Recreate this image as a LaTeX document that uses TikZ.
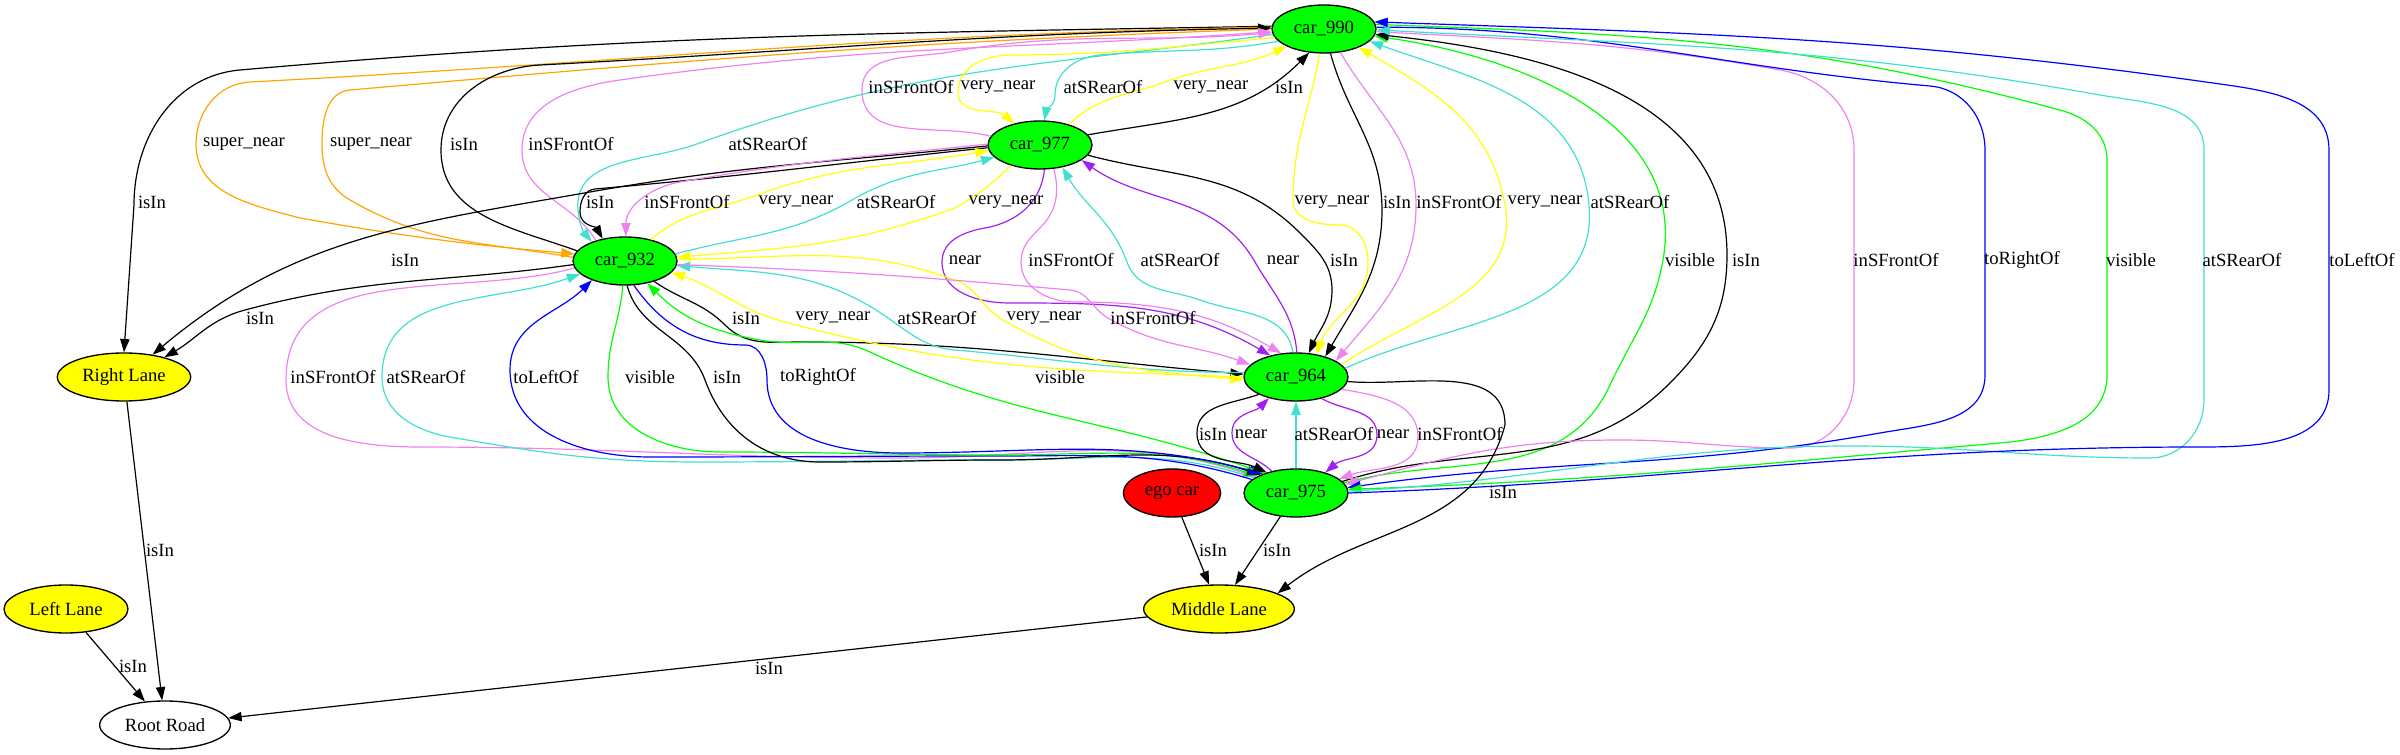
\documentclass[tikz,border=0pt]{standalone}
\usepackage{fontspec}
\setmainfont{Liberation Serif}
\usepackage{xcolor}
\definecolor{colorcar}{RGB}{0,255,0}
\definecolor{colorlane}{RGB}{255,255,0}
\definecolor{colorego}{RGB}{255,0,0}
\definecolor{colororange}{RGB}{255,165,0}
\definecolor{colorviolet}{RGB}{238,130,238}
\definecolor{colorturq}{RGB}{64,224,208}
\definecolor{coloryel}{RGB}{255,255,0}
\definecolor{colorpurple}{RGB}{160,32,240}
\definecolor{colorblue}{RGB}{0,0,255}
\definecolor{colorgreen}{RGB}{0,255,0}
\usepackage{tikz}
\usetikzlibrary{arrows.meta,shapes.geometric}
\tikzstyle{car} = [ellipse, draw=black, line width=1pt, fill=colorcar, minimum width=78pt, minimum height=36pt, inner sep=0pt]
\tikzstyle{lane} = [ellipse, draw=black, line width=1pt, fill=colorlane, minimum height=36pt, inner sep=0pt]
\tikzstyle{egocar} = [ellipse, draw=black, line width=1pt, fill=colorego, minimum width=73pt, minimum height=36pt, inner sep=0pt]
\tikzstyle{road} = [ellipse, draw=black, line width=1pt, fill=white, minimum width=98pt, minimum height=36pt, inner sep=0pt]
\tikzstyle{rel} = [->, line width=0.9pt, draw=black]
\tikzstyle{lbl} = [inner sep=0pt]

\begin{document}
\begin{tikzpicture}[x=0.75pt, y=0.75pt, >={Triangle[length=10pt,width=7pt]},
    every node/.style={font=\fontsize{14}{16}\selectfont}]
    \useasboundingbox (0,0) rectangle (2400,-755);

    \node[car] (n990) at (1324,-29) {car\_990};
    \node[car] (n977) at (1040,-145) {car\_977};
    \node[car] (n932) at (625,-261) {car\_932};
    \node[car] (n964) at (1296,-377) {car\_964};
    \node[car] (n975) at (1296,-493) {car\_975};
    \node[egocar] (nego) at (1172,-493) {ego car};
    \node[lane, minimum width=100pt] (nright) at (124,-377) {Right Lane};
    \node[lane, minimum width=113pt] (nmiddle) at (1219,-609) {Middle Lane};
    \node[lane, minimum width=93pt] (nleft) at (66,-609) {Left Lane};
    \node[road] (nroot) at (165,-725) {Root Road};

    % car_990 to the left
    \draw[rel] (n990.177) to[out=181,in=5] (240,-70) to[out=185,in=90] (134,-205) -- (nright.north);
    \draw[rel, draw=colororange] (n990.178) to[out=181,in=3] (250,-82) to[out=183,in=90] (196,-144) to[out=-90,in=165] (300,-218) to[out=-10,in=175] (n932.172);
    \draw[rel, draw=colororange] (n932.176) to[out=170,in=-30] (350,-200) to[out=150,in=-90] (322,-144) to[out=90,in=185] (350,-90) to[out=5,in=182] (n990.180);
    \draw[rel] (n932.168) to[out=160,in=-90] (441,-150) to[out=90,in=183] (540,-65) to[out=3,in=181] (n990.179);
    \draw[rel, draw=colorviolet] (n932.145) to[out=120,in=-90] (522,-150) to[out=90,in=188] (620,-80) to[out=8,in=184] (n990.183);
    \draw[rel, draw=colorturq] (n990.186) to[out=188,in=20] (697,-144) to[out=200,in=95] (578,-210) to[out=-85,in=130] (n932.150);

    % car_990 and car_977
    \draw[rel, draw=colorviolet] (n977.170) to[out=165,in=-90] (862,-90) to[out=90,in=190] (950,-52) to[out=10,in=185] (n990.184);
    \draw[rel, draw=coloryel] (n990.190) to[out=185,in=0] (1010,-55) to[out=180,in=90] (958,-92) to[out=-90,in=140] (n977.140);
    \draw[rel, draw=colorturq] (n990.195) to[out=190,in=5] (1100,-55) to[out=185,in=90] (1055,-95) to[out=-90,in=80] (n977.80);
    \draw[rel, draw=coloryel] (n977.35) to[out=45,in=200] (1165,-82) to[out=20,in=205] (n990.205);
    \draw[rel] (n977.12) to[out=10,in=225] (n990.238);

    % car_977 to the left
    \draw[rel] (n977.181) to[out=186,in=10] (590,-192) to[out=190,in=40] (nright.38);
    \draw[rel] (n977.183) to[out=186,in=5] (595,-189) to[out=185,in=90] (580,-212) to[out=-90,in=120] (n932.135);
    \draw[rel, draw=colorviolet] (n977.179) to[out=186,in=10] (680,-182) to[out=190,in=90] (n932.88);
    \draw[rel, draw=coloryel] (n932.40) to[out=40,in=200] (757,-195) to[out=20,in=190] (n977.186);
    \draw[rel, draw=colorturq] (n932.8) to[out=15,in=210] (852,-200) to[out=30,in=195] (n977.195);
    \draw[rel, draw=coloryel] (n977.215) to[out=225,in=30] (955,-208) to[out=200,in=5] (n932.4);

    % car_977 and car_964
    \draw[rel, draw=colorpurple] (n977.-80) to[out=-95,in=10] (985,-228) to[out=190,in=90] (942,-262) to[out=-90,in=180] (1010,-303) to[out=0,in=150] (n964.140);
    \draw[rel, draw=colorviolet] (n977.-60) to[out=-75,in=45] (1040,-228) to[out=225,in=90] (1021,-262) to[out=-90,in=180] (1075,-302) to[out=0,in=150] (n964.122);
    \draw[rel, draw=colorturq] (n964.97) to[out=100,in=-20] (1200,-300) to[out=160,in=-70] (1127,-262) to[out=110,in=-60] (n977.-45);
    \draw[rel, draw=colorpurple] (n964.88) to[out=95,in=-60] (1255,-262) to[out=120,in=-35] (n977.-20);
    \draw[rel] (n977.-12) to[out=-15,in=135] (1300,-233) to[out=-45,in=90] (1332,-290) to[out=-90,in=65] (n964.62);

    % car_990 and car_964
    \draw[rel, draw=coloryel] (n990.-100) to[out=-100,in=90] (1293,-200) to[out=-90,in=180] (1340,-225) to[out=0,in=90] (1368,-262) to[out=-90,in=70] (n964.48);
    \draw[rel] (n990.-75) to[out=-75,in=90] (1382,-210) to[out=-90,in=60] (n964.35);
    \draw[rel, draw=colorviolet] (n990.-55) to[out=-60,in=90] (1416,-205) to[out=-90,in=50] (n964.22);
    \draw[rel, draw=coloryel] (n964.15) to[out=35,in=-80] (1505,-205) to[out=100,in=-30] (n990.-28);
    \draw[rel, draw=colorturq] (n964.10) to[out=25,in=-85] (1589,-205) to[out=95,in=-20] (n990.-15);

    % car_975 and car_990
    \draw[rel, draw=colorgreen] (n975.12) to[out=15,in=-115] (1610,-385) to[out=65,in=-100] (1663,-260) to[out=80,in=-8] (n990.-8);
    \draw[rel] (n975.14) to[out=18,in=-135] (1670,-383) to[out=45,in=-90] (1727,-255) to[out=90,in=-6] (n990.-6);
    \draw[rel, draw=colorviolet] (n990.-3) to[out=-3,in=170] (1780,-70) to[out=-10,in=90] (1854,-150) -- (1854,-380) to[out=-90,in=0] (1790,-448) to[out=180,in=0] (1620,-440) to[out=180,in=15] (n975.10);
    \draw[rel, draw=colorblue] (n990.2) to[out=0,in=175] (1930,-86) to[out=-5,in=90] (1985,-150) -- (1985,-375) to[out=-90,in=10] (1880,-433) to[out=190,in=8] (n975.6);
    \draw[rel, draw=colorgreen] (n990.5) to[out=-2,in=165] (2060,-110) to[out=-15,in=90] (2107,-160) -- (2107,-375) to[out=-90,in=5] (2000,-443) to[out=185,in=2] (n975.4);
    \draw[rel, draw=colorturq] (n975.2) to[out=3,in=180] (1850,-446) to[out=0,in=180] (2150,-458) to[out=0,in=-90] (2204,-400) -- (2204,-150) to[out=90,in=-10] (2100,-95) to[out=170,in=-3] (n990.-1);
    \draw[rel, draw=colorblue] (n975.0) to[out=2,in=180] (2200,-447) to[out=0,in=-90] (2329,-390) -- (2329,-150) to[out=90,in=-8] (2213,-83) to[out=172,in=-2] (n990.8);

    % car_932 and car_964
    \draw[rel] (n932.-35) to[out=-35,in=135] (725,-325) to[out=-45,in=180] (800,-342) to[out=0,in=175] (n964.177);
    \draw[rel, draw=coloryel] (n964.180) to[out=178,in=-15] (785,-322) to[out=165,in=-18] (n932.-14);
    \draw[rel, draw=colorturq] (n964.175) to[out=180,in=-5] (955,-350) to[out=175,in=-35] (888,-318) to[out=145,in=-5] (n932.-5);
    \draw[rel, draw=coloryel] (n932.2) to[out=0,in=160] (955,-280) to[out=-20,in=150] (1003,-320) to[out=-30,in=175] (n964.183);
    \draw[rel, draw=colorviolet] (n932.-4) to[out=-2,in=175] (1070,-290) to[out=-5,in=150] (1108,-318) to[out=-30,in=160] (n964.165);

    % car_932 and car_975
    \draw[rel, draw=colorviolet] (n932.188) to[out=195,in=90] (286,-380) to[out=-90,in=180] (420,-447) to[out=0,in=180] (900,-458) to[out=0,in=162] (n975.158);
    \draw[rel, draw=colorturq] (n975.160) to[out=162,in=0] (1000,-460) to[out=180,in=0] (700,-462) to[out=180,in=-10] (450,-437) to[out=170,in=-90] (382,-377) to[out=90,in=200] (n932.196);
    \draw[rel, draw=colorblue] (n975.163) to[out=163,in=0] (1000,-456) to[out=180,in=0] (650,-457) to[out=180,in=-90] (510,-370) to[out=90,in=225] (n932.210);
    \draw[rel, draw=colorgreen] (n932.265) to[out=-95,in=90] (608,-377) to[out=-90,in=180] (720,-452) to[out=0,in=180] (1000,-455) to[out=0,in=162] (n975.156);
    \draw[rel] (n932.-85) to[out=-75,in=110] (705,-380) to[out=-70,in=180] (820,-462) to[out=0,in=180] (1000,-460) to[out=0,in=162] (n975.153);
    \draw[rel, draw=colorblue] (n932.-70) to[out=-55,in=180] (745,-345) to[out=0,in=90] (767,-380) to[out=-90,in=180] (900,-453) to[out=0,in=165] (n975.150);
    \draw[rel, draw=colorgreen] (n975.148) to[out=160,in=-25] (870,-352) to[out=155,in=-10] (760,-340) to[out=170,in=-45] (n932.-45);

    % car_964 and car_975
    \draw[rel] (n964.205) to[out=200,in=90] (1197,-433) to[out=-90,in=155] (n975.145);
    \draw[rel, draw=colorpurple] (n975.138) to[out=135,in=-90] (1232,-433) to[out=90,in=225] (n964.218);
    \draw[rel, draw=colorturq] (n975) -- (n964);
    \draw[rel, draw=colorpurple] (n964.-40) to[out=-30,in=90] (1377,-435) to[out=-90,in=40] (n975.35);
    \draw[rel, draw=colorviolet] (n964.-15) to[out=-10,in=90] (1418,-437) to[out=-90,in=20] (n975.18);
    \draw[rel] (n964.-5) to[out=-5,in=90] (1505,-425) to[out=-105,in=38] (nmiddle.15);

    % lanes and road
    \draw[rel] (n932.184) to[out=188,in=15] (245,-310) to[out=195,in=30] (nright.26);
    \draw[rel] (nego) -- (nmiddle);
    \draw[rel] (n975) -- (nmiddle);
    \draw[rel] (nmiddle) -- (nroot);
    \draw[rel] (nright) -- (nroot);
    \draw[rel] (nleft) -- (nroot);

    % edge labels
    \foreach \x/\y/\t [count=\i] in {
      152/202/isIn, 244/144/super\_near, 371/144/super\_near, 464/144/isIn, 571/144/inSFrontOf, 768/144/atSRearOf,
      911/87/inSFrontOf, 998/87/very\_near, 1103/87/atSRearOf, 1211/87/very\_near, 1289/87/isIn,
      405/260/isIn, 600/202/isIn, 687/202/inSFrontOf, 796/202/very\_near, 896/202/atSRearOf, 1006/202/very\_near,
      965/260/near, 1071/260/inSFrontOf, 1180/260/atSRearOf, 1283/260/near, 1344/260/isIn,
      1332/202/very\_near, 1397/202/isIn, 1459/202/inSFrontOf, 1545/202/very\_near, 1630/202/atSRearOf,
      1690/260/visible, 1746/260/isIn, 1896/260/inSFrontOf, 2022/260/toRightOf, 2131/260/visible, 2242/260/atSRearOf, 2362/260/toLeftOf,
      746/318/isIn, 833/318/very\_near, 937/318/atSRearOf, 1044/318/very\_near, 1153/318/inSFrontOf,
      333/377/inSFrontOf, 426/377/atSRearOf, 546/377/toLeftOf, 650/377/visible, 727/377/isIn, 818/377/toRightOf, 1060/377/visible,
      1213/434/isIn, 1251/434/near, 1334/434/atSRearOf, 1393/434/near, 1460/434/inSFrontOf, 1503/492/isIn,
      1213/550/isIn, 1277/550/isIn, 769/668/isIn, 160/550/isIn, 133/666/isIn, 260/318/isIn}
      \node[lbl] (l\i) at (\x,-\y) {\t};
  \end{tikzpicture}
\end{document}
